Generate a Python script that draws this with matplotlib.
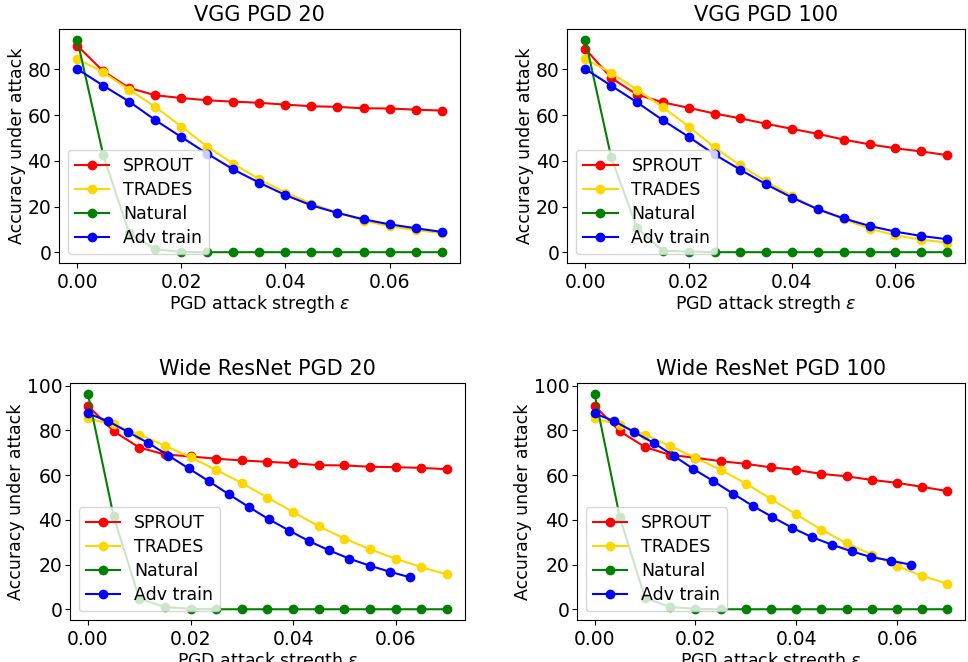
import numpy as np
import matplotlib
matplotlib.use("Agg")
import matplotlib.pyplot as plt

plt.rcParams["font.size"] = 12.5
plt.rcParams["axes.titlesize"] = 15
plt.rcParams["xtick.labelsize"] = 13.5
plt.rcParams["ytick.labelsize"] = 13.5
plt.rcParams["ytick.major.pad"] = 2
plt.rcParams["legend.labelspacing"] = 0.35

# attack strengths
eps = [0.0, 0.005, 0.01, 0.015, 0.02, 0.025, 0.03, 0.035,
       0.04, 0.045, 0.05, 0.055, 0.06, 0.065, 0.07]
# wide resnet adv train was run on the 0..16/255 grid
eps_255 = np.array([0, 1, 2, 3, 4, 5, 6, 7, 8, 9, 10, 11, 12, 13, 14, 15, 16]) / 255

# VGG PGD 20
vgg20_sprout = [90.4, 79.2, 71.9, 68.7, 67.5, 66.5, 65.9, 65.4, 64.6, 63.9, 63.6, 63.0, 62.9, 62.4, 62.0]
vgg20_trades = [84.6, 78.7, 71.2, 63.6, 55.0, 46.2, 38.7, 31.9, 26.1, 21.3, 17.3, 13.8, 11.4, 9.6, 8.4]
vgg20_natural = [93.0, 42.4, 8.2, 1.3, 0.1, 0, 0, 0, 0, 0, 0, 0, 0, 0, 0]
vgg20_adv = [80.2, 72.9, 65.9, 57.8, 50.4, 43.1, 36.2, 30.4, 25.0, 20.5, 17.2, 14.4, 12.2, 10.5, 8.9]

# VGG PGD 100
vgg100_sprout = [89.0, 76.3, 69.0, 65.6, 63.2, 60.7, 58.6, 56.2, 54.0, 51.8, 49.3, 47.2, 45.5, 44.1, 42.5]
vgg100_trades = [84.6, 78.5, 71.2, 63.5, 55.0, 45.9, 38.0, 31.0, 24.6, 18.8, 14.4, 10.3, 7.4, 5.5, 4.2]
vgg100_natural = [93.0, 41.6, 10.5, 0.6, 0.3, 0, 0, 0, 0, 0, 0, 0, 0, 0, 0]
vgg100_adv = [80.2, 72.9, 65.6, 57.8, 50.5, 42.8, 36.1, 29.7, 23.9, 18.8, 14.8, 11.5, 9.0, 7.1, 5.7]

# Wide ResNet PGD 20
wrn20_sprout = [91.0, 79.6, 72.3, 69.2, 68.3, 67.3, 66.5, 65.9, 65.3, 64.4, 64.3, 63.7, 63.5, 63.2, 62.6]
wrn20_trades = [85.3, 82.6, 78.1, 73.1, 68.0, 62.3, 56.4, 49.9, 43.5, 37.1, 31.6, 26.8, 22.6, 18.8, 15.6]
wrn20_natural = [96.3, 41.6, 4.8, 1.0, 0.2, 0, 0, 0, 0, 0, 0, 0, 0, 0, 0]
wrn20_adv = [87.5, 84.1, 79.2, 74.3, 68.7, 63.0, 57.3, 51.4, 45.7, 40.2, 35.2, 30.4, 26.3, 22.6, 19.5, 16.8, 14.3]

# Wide ResNet PGD 100
wrn100_sprout = [91.0, 79.6, 72.5, 69.0, 67.7, 66.2, 65.0, 63.4, 62.3, 60.5, 59.4, 57.8, 56.5, 54.7, 52.8]
wrn100_trades = [85.3, 82.3, 78.1, 72.9, 67.7, 62.3, 56.2, 49.3, 42.4, 35.6, 29.5, 24.4, 19.4, 14.9, 11.4]
wrn100_natural = [96.3, 41.2, 5.1, 1.0, 0.2, 0, 0, 0, 0, 0, 0, 0, 0, 0, 0]
wrn100_adv = [87.5, 84.1, 79.2, 74.3, 68.6, 62.7, 57.3, 51.7, 46.2, 41.2, 36.4, 32.2, 28.9, 25.9, 23.3, 21.7, 19.9]

panels = [
    ("VGG PGD 20", vgg20_sprout, vgg20_trades, vgg20_natural, vgg20_adv, eps,
     [0.061, 0.603, 0.414, 0.353]),
    ("VGG PGD 100", vgg100_sprout, vgg100_trades, vgg100_natural, vgg100_adv, eps,
     [0.586, 0.603, 0.411, 0.353]),
    ("Wide ResNet PGD 20", wrn20_sprout, wrn20_trades, wrn20_natural, wrn20_adv, eps_255,
     [0.0723, 0.0634, 0.408, 0.358]),
    ("Wide ResNet PGD 100", wrn100_sprout, wrn100_trades, wrn100_natural, wrn100_adv, eps_255,
     [0.596, 0.0634, 0.401, 0.358]),
]

fig = plt.figure(figsize=(9.68, 6.62), dpi=100)

for title, sprout, trades, natural, adv, adv_eps, rect in panels:
    ax = fig.add_axes(rect)
    ax.plot(eps, sprout, "-o", color="red", label="SPROUT")
    ax.plot(eps, trades, "-o", color="gold", label="TRADES")
    ax.plot(eps, natural, "-o", color="green", label="Natural")
    ax.plot(adv_eps, adv, "-o", color="blue", label="Adv train")
    ax.set_title(title)
    ax.set_xlabel(r"PGD attack stregth $\epsilon$", labelpad=1)
    ax.set_ylabel("Accuracy under attack", labelpad=1)
    ax.legend(loc="lower left")

fig.savefig("out.png", dpi=100)
